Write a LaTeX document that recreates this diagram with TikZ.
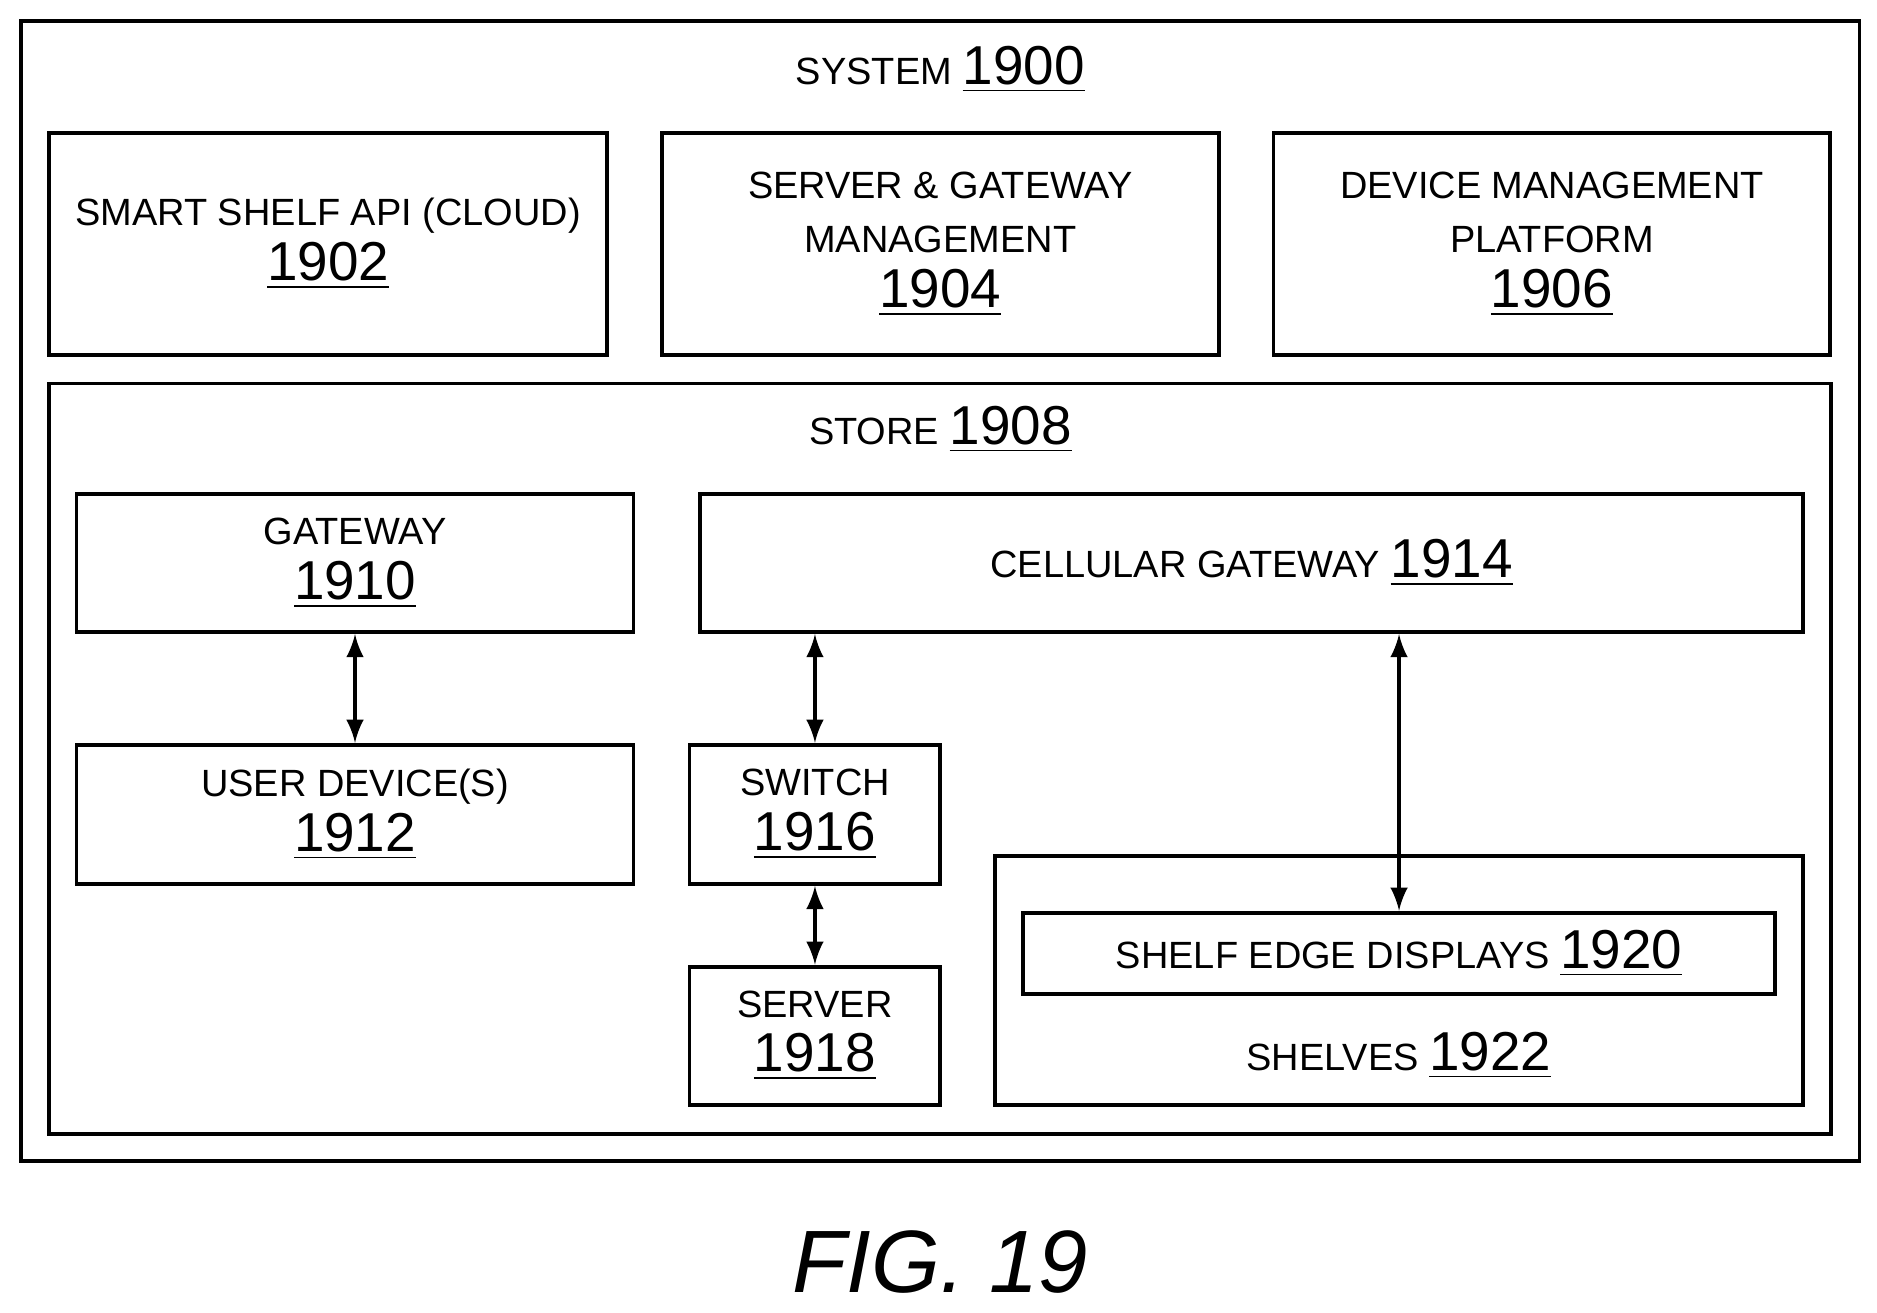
\documentclass[tikz,border=0pt]{standalone}
\usepackage{fontspec}
\setmainfont{Liberation Sans}
\usetikzlibrary{calc}

\newcommand{\refnum}[1]{{\fontsize{13}{14}\selectfont\underline{#1}}}

\tikzset{
	box/.style = {draw, line width = 0.9pt, align = center, inner sep = 0pt,
		font = \fontsize{9}{13}\selectfont},
	link/.style = {<->, line width = 0.9pt}
}

\begin{document}
\begin{tikzpicture}[> = latex, x = 0.01cm, y = -0.01cm]

	% Frame
	
	\useasboundingbox (0, 0) rectangle (1565, 1094);
	\node [box, minimum width = 15.32cm, minimum height = 9.5cm] (system) at (784, 493) {};
	\node [font = \fontsize{9}{12}\selectfont] (systitle) at (784, 58) {SYSTEM \refnum{1900}};
	
	% Cloud side
	
	\node [box, minimum width = 4.65cm, minimum height = 1.85cm] (api) at (273.5, 203.5) {SMART SHELF API (CLOUD)\\\refnum{1902}};
	\node [box, minimum width = 4.64cm, minimum height = 1.85cm] (sgm) at (784, 203.5) {SERVER \& GATEWAY\\MANAGEMENT\\\refnum{1904}};
	\node [box, minimum width = 4.64cm, minimum height = 1.85cm] (dmp) at (1294, 203.5) {DEVICE MANAGEMENT\\PLATFORM\\\refnum{1906}};
	
	% Store
	
	\node [box, minimum width = 14.85cm, minimum height = 6.25cm] (store) at (783.5, 632.5) {};
	\node [font = \fontsize{9}{12}\selectfont] (storetitle) at (784, 358) {STORE \refnum{1908}};
	
	\node [box, minimum width = 4.64cm, minimum height = 1.15cm] (gw) at (296, 469.5) {GATEWAY\\\refnum{1910}};
	\node [box, minimum width = 9.19cm, minimum height = 1.15cm] (cg) at (1043.5, 469.5) {CELLULAR GATEWAY \refnum{1914}};
	\node [box, minimum width = 4.64cm, minimum height = 1.16cm] (ud) at (296, 679) {USER DEVICE(S)\\\refnum{1912}};
	\node [box, minimum width = 2.09cm, minimum height = 1.16cm] (sw) at (679.5, 679) {SWITCH\\\refnum{1916}};
	\node [box, minimum width = 2.09cm, minimum height = 1.15cm] (srv) at (679.5, 863.5) {SERVER\\\refnum{1918}};
	
	% Shelves
	
	\node [box, minimum width = 6.73cm, minimum height = 2.07cm] (shelves) at (1166.5, 817.5) {};
	\node [box, minimum width = 6.27cm, minimum height = 0.68cm] (sed) at (1166.5, 795) {SHELF EDGE DISPLAYS \refnum{1920}};
	\node [font = \fontsize{9}{12}\selectfont] (shelvestitle) at (1166.5, 880) {SHELVES \refnum{1922}};
	
	% Links
	
	\draw [link] (gw) -- (ud);
	\draw [link] (cg.south -| sw.north) -- (sw.north);
	\draw [link] (sw) -- (srv);
	\draw [link] (cg.south -| sed.north) -- (sed.north);
	
	% Caption
	
	\node [font = \fontsize{21}{25}\selectfont\itshape] (fig) at (784, 1052) {FIG. 19};

\end{tikzpicture}
\end{document}
